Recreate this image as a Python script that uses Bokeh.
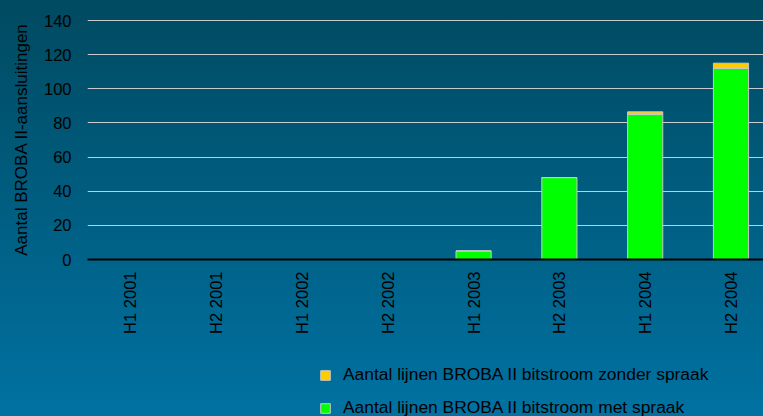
import math
from bokeh.plotting import figure
from bokeh.layouts import column
from bokeh.models import Range1d, FixedTicker, Legend, LegendItem, ColumnDataSource
from bokeh.embed import file_html
from bokeh.resources import INLINE

# ---- data ----
categories = ["H1 2001", "H2 2001", "H1 2002", "H2 2002",
              "H1 2003", "H2 2003", "H1 2004", "H2 2004"]
met_spraak = [0, 0, 0, 0, 5, 48, 85, 112]
zonder_spraak = [0, 0, 0, 0, 0, 0, 1.5, 3]
y_ticks = [0, 20, 40, 60, 80, 100, 120, 140]
series_labels = ["Aantal lijnen BROBA II bitstroom met spraak",
                 "Aantal lijnen BROBA II bitstroom zonder spraak"]
y_title = "Aantal BROBA II-aansluitingen"

xs = list(range(len(categories)))
source = ColumnDataSource(dict(x=xs, met=met_spraak, zonder=zonder_spraak))

FONT = "Liberation Sans"
BAR_COLORS = ["#00ff00", "#ffcc00"]
BAR_LINE = "#c8c8c8"

W, H_MAIN, H_LEG = 763, 345, 71

p = figure(width=W, height=H_MAIN, output_backend="svg", toolbar_location=None,
           x_range=Range1d(-0.5, 7.379), y_range=Range1d(0, 140.6),
           min_border_left=87, min_border_right=0, min_border_top=19,
           min_border_bottom=86)
p.styles = {"background": "linear-gradient(to bottom, #004a60 0%, #006b97 100%)"}
p.background_fill_alpha = 0
p.border_fill_alpha = 0
p.outline_line_color = None

renderers = p.vbar_stack(["met", "zonder"], x="x", width=0.41, source=source,
                         color=BAR_COLORS, line_color=BAR_LINE, line_width=1)

# axes
p.xaxis.ticker = FixedTicker(ticks=xs)
p.xaxis.major_label_overrides = {i: c for i, c in zip(xs, categories)}
p.xaxis.major_label_orientation = math.pi / 2
p.xaxis.major_label_text_font = FONT
p.xaxis.major_label_text_font_size = "16.5px"
p.xaxis.major_label_text_color = "black"
p.xaxis.major_label_standoff = 6
p.xaxis.axis_line_color = "black"
p.xaxis.axis_line_width = 2
p.xaxis.major_tick_line_color = None
p.xaxis.minor_tick_line_color = None

p.yaxis.ticker = FixedTicker(ticks=y_ticks)
p.yaxis.major_label_text_font = FONT
p.yaxis.major_label_text_font_size = "16.5px"
p.yaxis.major_label_text_color = "black"
p.yaxis.major_label_standoff = 10
p.yaxis.axis_line_color = None
p.yaxis.major_tick_line_color = None
p.yaxis.minor_tick_line_color = None
p.yaxis.axis_label = y_title
p.yaxis.axis_label_text_font = FONT
p.yaxis.axis_label_text_font_size = "17px"
p.yaxis.axis_label_text_font_style = "normal"
p.yaxis.axis_label_text_color = "black"
p.yaxis.axis_label_standoff = 10

p.xgrid.grid_line_color = None
p.ygrid.grid_line_color = "#c8ccd0"
p.ygrid.grid_line_width = 1

# ---- legend strip below the chart (same series, plotted out of view) ----
q = figure(width=W, height=H_LEG, output_backend="svg", toolbar_location=None,
           x_range=Range1d(-0.5, 7.379), y_range=Range1d(1000, 1001),
           x_axis_type=None, y_axis_type=None,
           min_border_left=0, min_border_right=0, min_border_top=0,
           min_border_bottom=0)
q.styles = {"background": "linear-gradient(to bottom, #006b97 0%, #0072a2 100%)"}
q.background_fill_alpha = 0
q.border_fill_alpha = 0
q.outline_line_color = None
q.grid.visible = False
leg_r = q.vbar_stack(["met", "zonder"], x="x", width=0.41, source=source,
                     color=BAR_COLORS, line_color=BAR_LINE, line_width=1)

legend = Legend(items=[LegendItem(label=series_labels[1], renderers=[leg_r[1]]),
                       LegendItem(label=series_labels[0], renderers=[leg_r[0]])],
                location=(232, -2))
legend.background_fill_alpha = 0
legend.border_line_color = None
legend.padding = 0
legend.margin = 0
legend.spacing = 12
legend.glyph_width = 12
legend.glyph_height = 12
legend.label_height = 20
legend.label_standoff = 12
legend.label_text_font = FONT
legend.label_text_font_size = "17.4px"
legend.label_text_color = "black"
q.add_layout(legend, "center")

layout = column(p, q, spacing=0)
open("out.html", "w").write(file_html(layout, INLINE))
